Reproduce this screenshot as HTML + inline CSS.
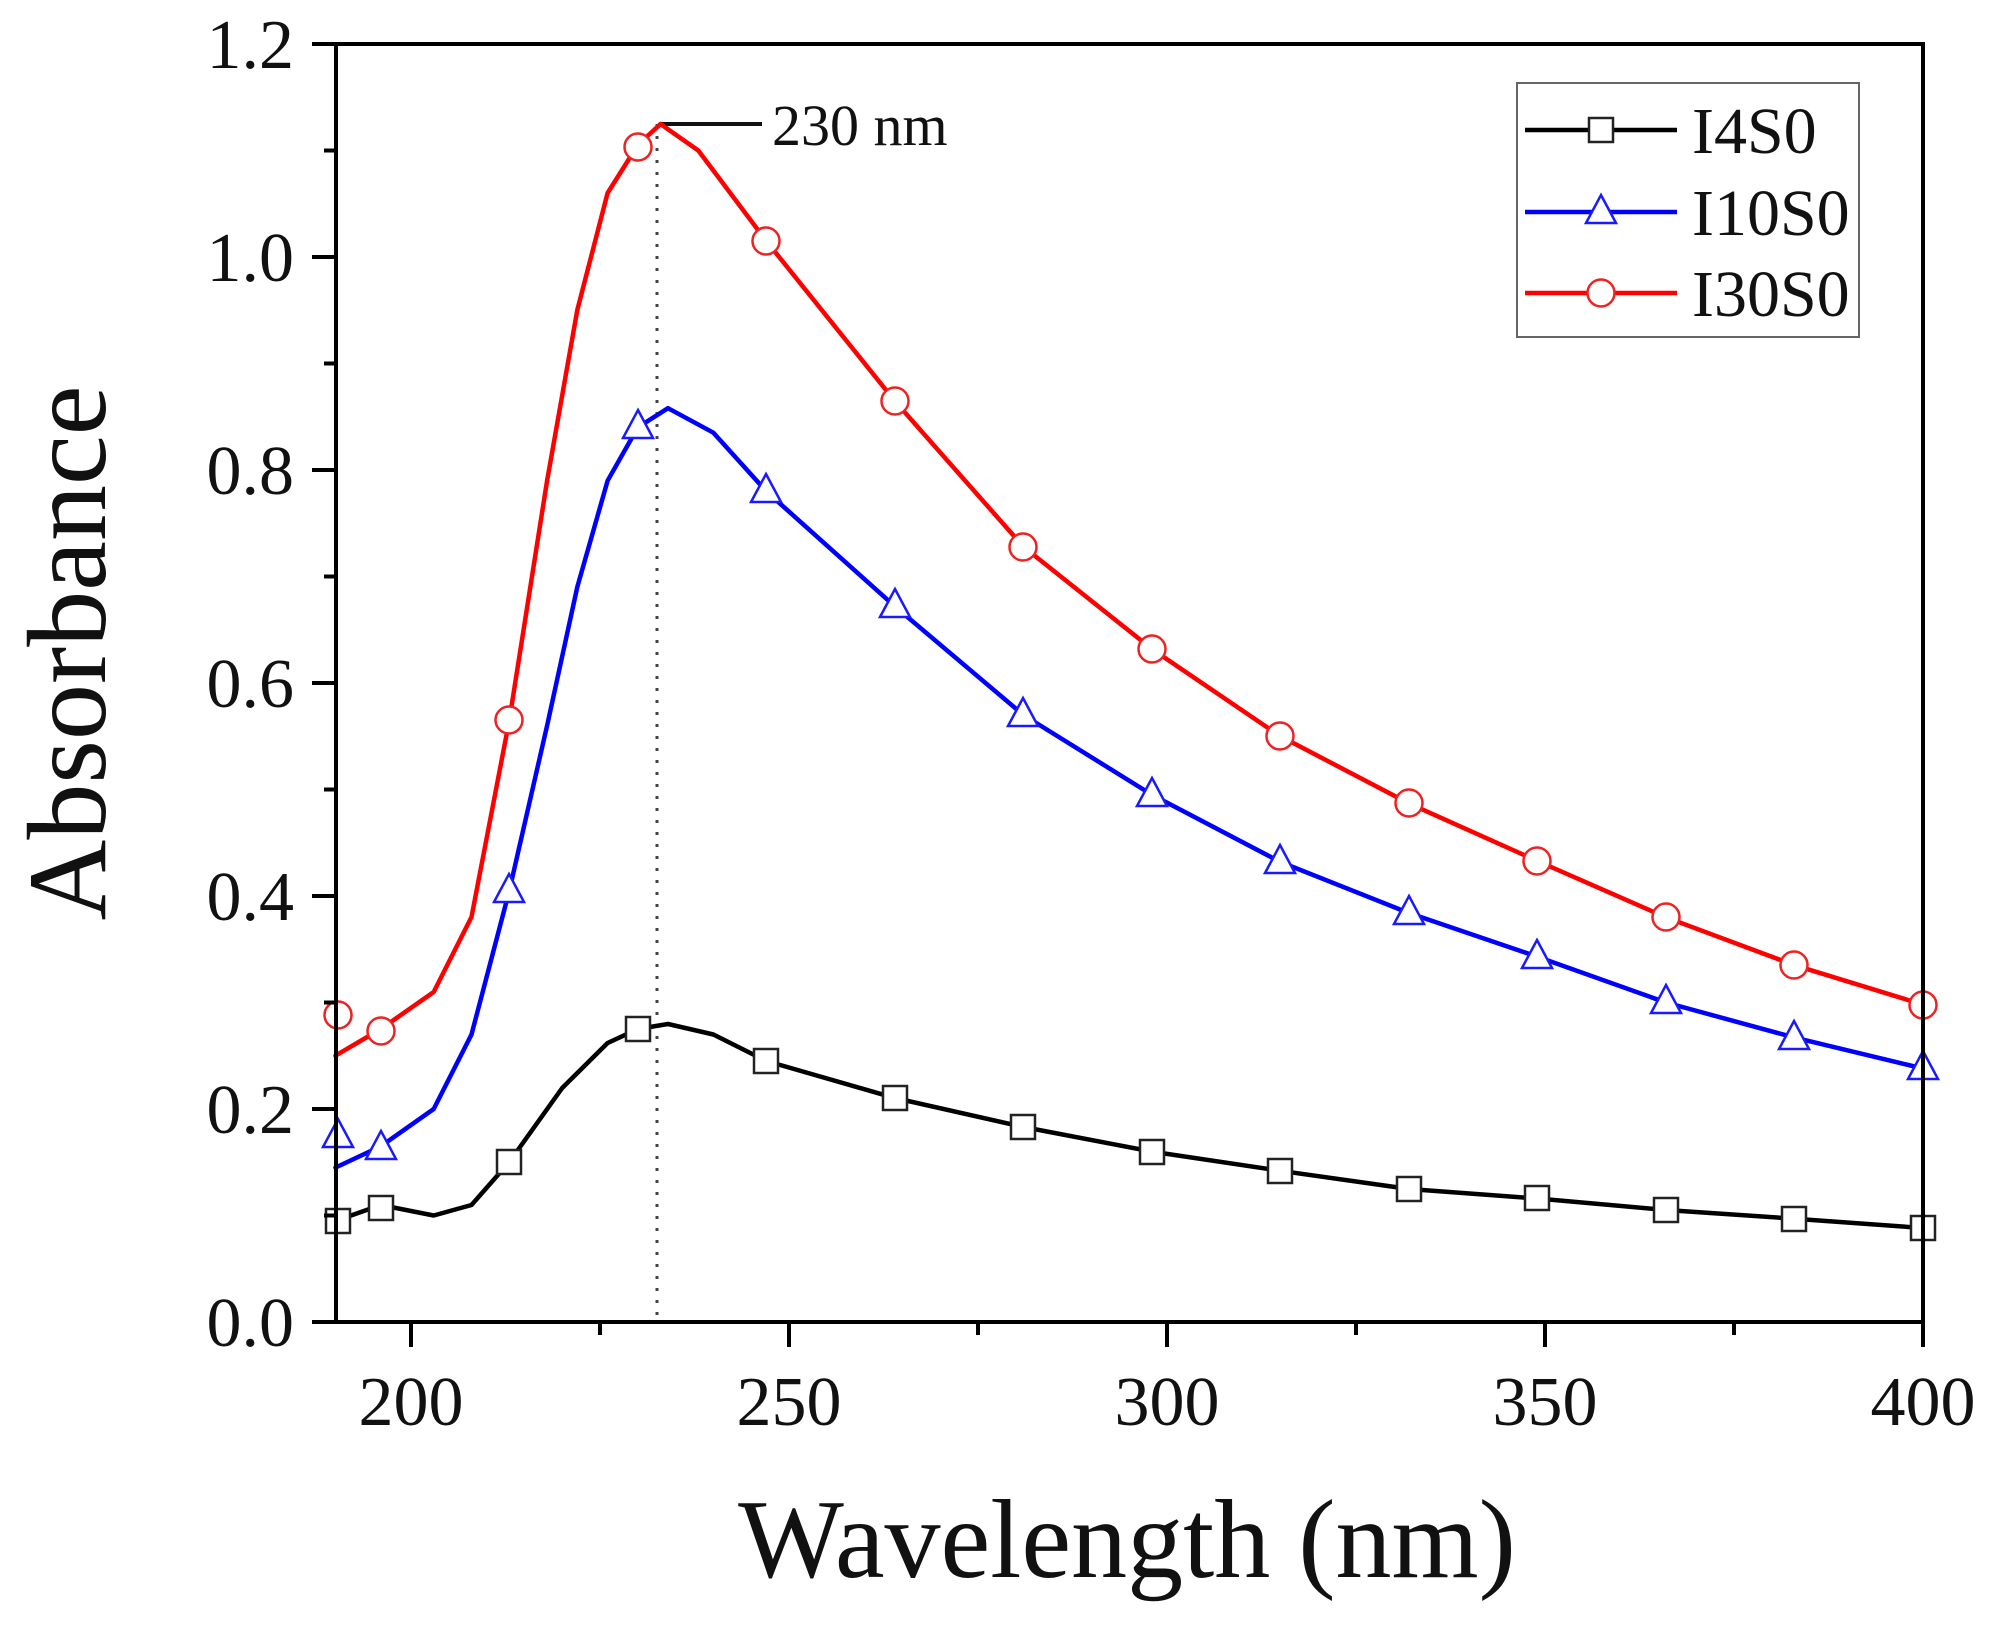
<!DOCTYPE html>
<html><head><meta charset="utf-8"><style>
html,body{margin:0;padding:0;background:#fff;}
svg{display:block;}
text{font-family:"Liberation Serif",serif;fill:#111;}
</style></head><body>
<svg width="2006" height="1625" viewBox="0 0 2006 1625" xmlns="http://www.w3.org/2000/svg">
<defs>
<g id="sq"><rect x="-12" y="-12" width="24" height="24" fill="#fff" stroke="#222" stroke-width="2.5"/></g>
<g id="tri"><polygon points="0,-17 15,11 -15,11" fill="#fff" stroke="#1a1aff" stroke-width="2.5"/></g>
<g id="cir"><circle r="13.5" fill="#fff" stroke="#ee2222" stroke-width="2.5"/></g>
</defs>
<!-- dotted line -->
<line x1="657" y1="124" x2="657" y2="1322" stroke="#444" stroke-width="3" stroke-dasharray="3,9"/>
<line x1="660" y1="124" x2="762" y2="124" stroke="#111" stroke-width="4"/>
<text x="772" y="145" font-size="58">230 nm</text>
<g fill="none" stroke-width="4.5" stroke-linejoin="round" stroke-linecap="round">
<polyline stroke="#000" points="335.4,1221 380.8,1205 433.7,1215.5 471.5,1205 509.3,1162 562.2,1088 607.6,1043 637.8,1029 668,1024 713.4,1034.5 766.3,1061 894.8,1098 1023.4,1127 1151.9,1151.6 1280.4,1170.8 1408.9,1189 1537.4,1198.5 1665.9,1210 1794.5,1218.7 1923,1228"/>
<polyline stroke="#0000ff" points="335.4,1167.6 380.8,1146.3 433.7,1109 471.5,1034.5 509.3,890.7 547.1,725.6 577.3,587 607.6,480.7 637.8,427.4 668,408.2 713.4,432.7 766.3,491.3 894.8,606.3 1023.4,715 1151.9,794.8 1280.4,862 1408.9,913 1537.4,956.7 1665.9,1002.5 1794.5,1037.6 1923,1068.5"/>
<polyline stroke="#ff0000" points="335.4,1055.7 380.8,1029 433.7,992 471.5,917 509.3,720.3 547.1,480.6 577.3,310 607.6,193 637.8,145 660.5,124 698.3,150.5 766.3,241 894.8,401 1023.4,546.7 1151.9,649 1280.4,736.3 1408.9,803.4 1537.4,861 1665.9,917.3 1794.5,965.2 1923,1004.6"/>
</g>
<!-- markers -->
<use href="#sq" x="338" y="1221"/><use href="#sq" x="381" y="1208"/><use href="#sq" x="509" y="1162"/><use href="#sq" x="638" y="1029"/><use href="#sq" x="766" y="1061"/><use href="#sq" x="895" y="1098"/><use href="#sq" x="1023" y="1127"/><use href="#sq" x="1152" y="1152"/><use href="#sq" x="1280" y="1171"/><use href="#sq" x="1409" y="1189"/><use href="#sq" x="1537" y="1198"/><use href="#sq" x="1666" y="1210"/><use href="#sq" x="1794" y="1219"/><use href="#sq" x="1923" y="1228"/>
<use href="#tri" x="338" y="1136"/><use href="#tri" x="381" y="1148"/><use href="#tri" x="509" y="891"/><use href="#tri" x="638" y="427"/><use href="#tri" x="766" y="491"/><use href="#tri" x="895" y="606"/><use href="#tri" x="1023" y="715"/><use href="#tri" x="1152" y="795"/><use href="#tri" x="1280" y="862"/><use href="#tri" x="1409" y="913"/><use href="#tri" x="1537" y="957"/><use href="#tri" x="1666" y="1002"/><use href="#tri" x="1794" y="1038"/><use href="#tri" x="1923" y="1068"/>
<use href="#cir" x="338" y="1015"/><use href="#cir" x="381" y="1031"/><use href="#cir" x="509" y="720"/><use href="#cir" x="638" y="147"/><use href="#cir" x="766" y="241"/><use href="#cir" x="895" y="401"/><use href="#cir" x="1023" y="547"/><use href="#cir" x="1152" y="649"/><use href="#cir" x="1280" y="736"/><use href="#cir" x="1409" y="803"/><use href="#cir" x="1537" y="861"/><use href="#cir" x="1666" y="917"/><use href="#cir" x="1794" y="965"/><use href="#cir" x="1923" y="1005"/>
<!-- axes frame -->
<rect x="336" y="44" width="1587" height="1278" fill="none" stroke="#000" stroke-width="4"/>
<g stroke="#000" stroke-width="4">
<!-- y ticks -->
<line x1="312" y1="44" x2="336" y2="44"/><line x1="312" y1="257" x2="336" y2="257"/><line x1="312" y1="470" x2="336" y2="470"/><line x1="312" y1="683" x2="336" y2="683"/><line x1="312" y1="896" x2="336" y2="896"/><line x1="312" y1="1109" x2="336" y2="1109"/><line x1="312" y1="1322" x2="336" y2="1322"/>
<line x1="324" y1="150.5" x2="336" y2="150.5"/><line x1="324" y1="363.5" x2="336" y2="363.5"/><line x1="324" y1="576.5" x2="336" y2="576.5"/><line x1="324" y1="789.5" x2="336" y2="789.5"/><line x1="324" y1="1002.5" x2="336" y2="1002.5"/><line x1="324" y1="1215.5" x2="336" y2="1215.5"/>
<!-- x ticks -->
<line x1="411" y1="1322" x2="411" y2="1347"/><line x1="789" y1="1322" x2="789" y2="1347"/><line x1="1167" y1="1322" x2="1167" y2="1347"/><line x1="1545" y1="1322" x2="1545" y2="1347"/><line x1="1923" y1="1322" x2="1923" y2="1347"/>
<line x1="600" y1="1322" x2="600" y2="1335"/><line x1="978" y1="1322" x2="978" y2="1335"/><line x1="1356" y1="1322" x2="1356" y2="1335"/><line x1="1734" y1="1322" x2="1734" y2="1335"/>
</g>
<g font-size="70" text-anchor="end">
<text x="294" y="68">1.2</text><text x="294" y="281">1.0</text><text x="294" y="494">0.8</text><text x="294" y="707">0.6</text><text x="294" y="920">0.4</text><text x="294" y="1133">0.2</text><text x="294" y="1346">0.0</text>
</g>
<g font-size="70" text-anchor="middle">
<text x="411" y="1425">200</text><text x="789" y="1425">250</text><text x="1167" y="1425">300</text><text x="1545" y="1425">350</text><text x="1923" y="1425">400</text>
</g>
<text x="1127" y="1577" font-size="112" text-anchor="middle">Wavelength (nm)</text>
<text transform="translate(105,653) rotate(-90)" font-size="112" text-anchor="middle">Absorbance</text>
<!-- legend -->
<rect x="1517" y="83" width="342" height="254" fill="#fff" stroke="#666" stroke-width="2"/>
<line x1="1525" y1="130" x2="1677" y2="130" stroke="#000" stroke-width="4.5"/><use href="#sq" x="1601" y="130"/>
<line x1="1525" y1="212" x2="1677" y2="212" stroke="#0000ff" stroke-width="4.5"/><use href="#tri" x="1601" y="212"/>
<line x1="1525" y1="293" x2="1677" y2="293" stroke="#ff0000" stroke-width="4.5"/><use href="#cir" x="1601" y="293"/>
<g font-size="66"><text x="1692" y="153">I4S0</text><text x="1692" y="235">I10S0</text><text x="1692" y="316">I30S0</text></g>
</svg>
</body></html>
